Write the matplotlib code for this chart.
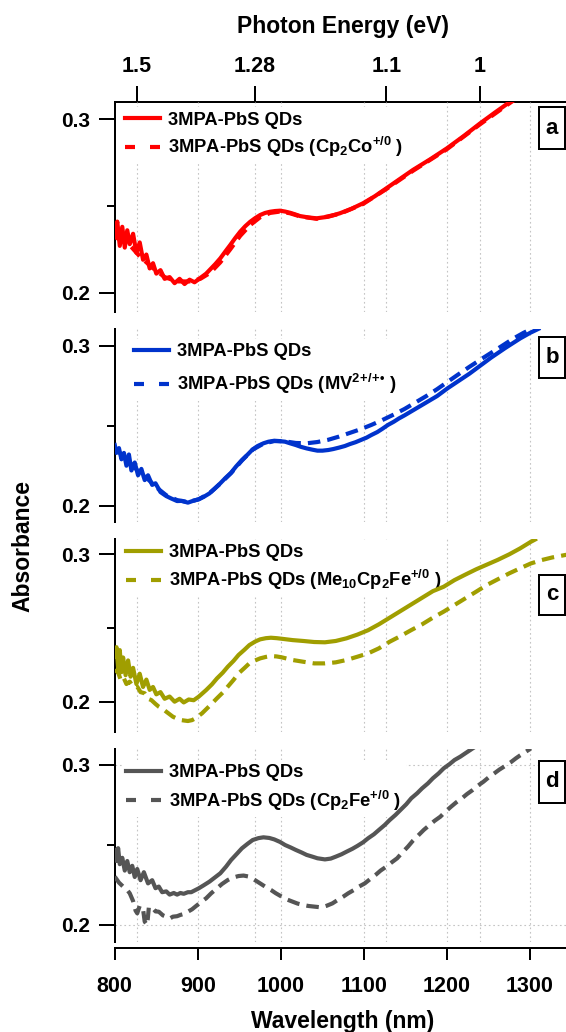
import matplotlib
matplotlib.use("Agg")
import matplotlib.pyplot as plt
from matplotlib.lines import Line2D
from matplotlib.patches import Rectangle
import numpy as np

plt.rcParams['font.family'] = ['Liberation Sans', 'DejaVu Sans']
plt.rcParams['font.weight'] = 'bold'
plt.rcParams['mathtext.fontset'] = 'custom'
plt.rcParams['mathtext.rm'] = 'Liberation Sans:bold'
plt.rcParams['mathtext.bf'] = 'Liberation Sans:bold'
plt.rcParams['mathtext.it'] = 'Liberation Sans:bold:italic'
plt.rcParams['mathtext.default'] = 'bf'

# ---------------- data ----------------
# panel a : red
wl_a_sol = [800, 803, 806, 809, 812, 815, 818, 822, 826, 830, 834, 838, 842, 846, 850, 855, 860, 866, 872, 878,
            884, 890, 896, 903, 910, 915, 921, 927, 933, 939, 945, 951, 957, 963, 969, 975, 981, 987, 993, 999,
            1005, 1011, 1017, 1023, 1033, 1043, 1057, 1071, 1085, 1099, 1113, 1127, 1143, 1159, 1180, 1200,
            1220, 1240, 1258, 1276, 1285]
abs_a_sol = [0.233, 0.241, 0.227, 0.238, 0.226, 0.236, 0.228, 0.234, 0.223, 0.229, 0.219, 0.222, 0.214, 0.217,
             0.211, 0.213, 0.208, 0.209, 0.2055, 0.208, 0.205, 0.2075, 0.206, 0.2085, 0.211, 0.2135, 0.2165,
             0.2198, 0.2237, 0.2275, 0.2315, 0.2352, 0.2383, 0.2409, 0.243, 0.2448, 0.246, 0.2467, 0.2471,
             0.2473, 0.2468, 0.2461, 0.2452, 0.2442, 0.2434, 0.2429, 0.2438, 0.2458, 0.2484, 0.2516, 0.2556,
             0.2602, 0.2655, 0.2708, 0.277, 0.2833, 0.2903, 0.2977, 0.304, 0.3101, 0.313]
wl_a_dsh = [800, 815, 830, 845, 860, 875, 890, 903, 915, 927, 939, 951, 963, 975, 987, 999, 1011, 1023, 1043,
            1071, 1099, 1127, 1159, 1200, 1240, 1276, 1285]
abs_a_dsh = [0.232, 0.229, 0.221, 0.2145, 0.209, 0.2065, 0.2065, 0.208, 0.2115, 0.2175, 0.225, 0.2328, 0.239,
             0.2435, 0.246, 0.2468, 0.2458, 0.244, 0.2426, 0.2455, 0.2512, 0.2598, 0.2703, 0.2828, 0.2972,
             0.3095, 0.3125]

# panel b : blue
wl_b_sol = [800, 802, 805, 808, 811, 814, 817, 820, 824, 828, 832, 836, 840, 845, 849, 855, 862, 868, 875, 881,
            888, 894, 901, 907, 914, 920, 927, 933, 940, 946, 953, 960, 966, 972, 979, 985, 992, 998, 1005, 1011,
            1018, 1024, 1031, 1038, 1044, 1050, 1057, 1063, 1070, 1077, 1083, 1090, 1096, 1103, 1109, 1116,
            1122, 1129, 1136, 1142, 1149, 1162, 1175, 1188, 1201, 1214, 1227, 1240, 1253, 1270, 1288, 1300, 1310]
abs_b_sol = [0.2379, 0.233, 0.236, 0.229, 0.233, 0.225, 0.232, 0.222, 0.227, 0.219, 0.223, 0.216, 0.219, 0.213,
             0.214, 0.2085, 0.206, 0.2045, 0.2029, 0.203, 0.2019, 0.203, 0.204, 0.2055, 0.2077, 0.2105, 0.214,
             0.2172, 0.2206, 0.2245, 0.2285, 0.232, 0.2352, 0.2373, 0.239, 0.24, 0.2406, 0.2404, 0.24, 0.239,
             0.2379, 0.2368, 0.2358, 0.235, 0.2344, 0.2344, 0.2348, 0.2354, 0.2363, 0.2373, 0.2385, 0.2397,
             0.241, 0.2425, 0.2442, 0.246, 0.248, 0.2505, 0.2525, 0.2545, 0.2565, 0.2605, 0.2645, 0.2685,
             0.2735, 0.278, 0.2825, 0.2875, 0.2925, 0.2985, 0.3045, 0.308, 0.3105]
wl_b_dsh = [800, 810, 820, 830, 840, 850, 862, 875, 888, 901, 914, 927, 940, 953, 966, 979, 992, 1005, 1018,
            1031, 1044, 1057, 1070, 1083, 1096, 1109, 1122, 1136, 1149, 1162, 1175, 1188, 1201, 1214, 1227,
            1240, 1253, 1266, 1280, 1292, 1303]
abs_b_dsh = [0.236, 0.231, 0.226, 0.2205, 0.2165, 0.2115, 0.2065, 0.2035, 0.2022, 0.204, 0.2078, 0.2138,
             0.2204, 0.2282, 0.235, 0.2388, 0.2404, 0.2402, 0.2392, 0.239, 0.2398, 0.2412, 0.2432, 0.2455,
             0.2478, 0.2505, 0.2535, 0.257, 0.2605, 0.2645, 0.2685, 0.2728, 0.2775, 0.2822, 0.2868, 0.2912,
             0.2955, 0.2998, 0.3045, 0.308, 0.3108]

# panel c : olive
wl_c_sol = [800, 802, 804, 806, 808, 810, 813, 816, 819, 822, 826, 830, 834, 838, 842, 846, 850, 855, 860, 866,
            872, 878, 883, 889, 895, 901, 910, 917, 923, 930, 936, 943, 949, 956, 962, 969, 975, 982, 988, 995,
            1001, 1014, 1027, 1040, 1053, 1066, 1079, 1092, 1105, 1118, 1131, 1144, 1157, 1170, 1183, 1196,
            1209, 1222, 1235, 1248, 1261, 1275, 1288, 1301, 1306]
abs_c_sol = [0.2305, 0.237, 0.223, 0.235, 0.22, 0.23, 0.218, 0.228, 0.217, 0.223, 0.212, 0.219, 0.21, 0.215,
             0.208, 0.21, 0.205, 0.2065, 0.202, 0.2035, 0.2, 0.202, 0.1995, 0.2015, 0.201, 0.2034, 0.2079,
             0.2118, 0.2158, 0.2197, 0.2237, 0.2277, 0.2317, 0.2352, 0.2384, 0.2408, 0.2423, 0.2431, 0.2434,
             0.2431, 0.2427, 0.2418, 0.2412, 0.2405, 0.2403, 0.2412, 0.243, 0.2455, 0.2485, 0.2525, 0.257,
             0.2615, 0.266, 0.2705, 0.275, 0.278, 0.2825, 0.2862, 0.2898, 0.293, 0.2962, 0.3, 0.304, 0.3085, 0.31]
wl_c_dsh = [800, 803, 807, 810, 814, 818, 823, 827, 831, 836, 840, 844, 849, 853, 858, 862, 866, 870, 875, 879,
            884, 888, 893, 897, 905, 914, 923, 930, 936, 943, 949, 956, 962, 969, 975, 982, 988, 995, 1001,
            1014, 1027, 1040, 1053, 1066, 1079, 1092, 1105, 1118, 1131, 1144, 1157, 1170, 1183, 1196, 1209,
            1222, 1235, 1248, 1261, 1275, 1288, 1301, 1314, 1327, 1345]
abs_c_dsh = [0.22, 0.2215, 0.215, 0.217, 0.212, 0.2136, 0.2095, 0.2102, 0.2065, 0.2057, 0.202, 0.2011, 0.1985,
             0.1966, 0.195, 0.1932, 0.1915, 0.1898, 0.1885, 0.1876, 0.1872, 0.1869, 0.1875, 0.1887, 0.1921,
             0.1971, 0.2023, 0.2062, 0.2102, 0.2148, 0.2192, 0.2228, 0.226, 0.228, 0.2294, 0.2304, 0.231,
             0.2307, 0.2301, 0.2283, 0.2271, 0.226, 0.226, 0.2267, 0.2283, 0.2305, 0.2328, 0.2362, 0.2407,
             0.2445, 0.2486, 0.2525, 0.257, 0.2611, 0.2656, 0.2701, 0.2746, 0.2792, 0.283, 0.2871, 0.2905,
             0.2938, 0.2961, 0.2979, 0.2998]

# panel d : gray
wl_d_sol = [800, 802, 804, 806, 809, 812, 815, 818, 821, 824, 827, 831, 835, 840, 845, 849, 853, 857, 862, 866,
            871, 875, 879, 883, 888, 892, 901, 907, 914, 920, 927, 934, 940, 947, 953, 960, 966, 973, 979, 986,
            992, 999, 1005, 1012, 1018, 1025, 1031, 1038, 1044, 1053, 1060, 1066, 1073, 1079, 1086, 1092, 1099,
            1105, 1112, 1118, 1125, 1131, 1138, 1144, 1151, 1157, 1164, 1170, 1177, 1183, 1190, 1196, 1203,
            1209, 1216, 1222, 1231]
abs_d_sol = [0.2469, 0.24, 0.248, 0.238, 0.242, 0.234, 0.24, 0.233, 0.237, 0.23, 0.235, 0.228, 0.233, 0.226,
             0.228, 0.223, 0.224, 0.2205, 0.221, 0.219, 0.22, 0.219, 0.22, 0.2195, 0.2205, 0.2205, 0.2229,
             0.2248, 0.2271, 0.2295, 0.2323, 0.2365, 0.2406, 0.2445, 0.2479, 0.2508, 0.2531, 0.2543, 0.2548,
             0.2544, 0.2535, 0.2519, 0.25, 0.2484, 0.2469, 0.2453, 0.2438, 0.2427, 0.2417, 0.241, 0.2415,
             0.2427, 0.2442, 0.2458, 0.2476, 0.2494, 0.2517, 0.2542, 0.2567, 0.2594, 0.2625, 0.2656, 0.2688,
             0.2719, 0.2755, 0.2792, 0.2823, 0.2854, 0.2885, 0.2917, 0.2948, 0.2979, 0.3005, 0.3031, 0.3052,
             0.3073, 0.3104]
wl_d_dsh = [800, 805, 810, 814, 818, 822, 825, 827, 830, 834, 836, 839, 841, 844, 849, 853, 858, 862, 866, 870,
            875, 879, 884, 888, 893, 897, 903, 910, 916, 923, 929, 936, 942, 949, 955, 962, 968, 975, 981, 988,
            994, 1001, 1007, 1014, 1020, 1027, 1033, 1040, 1049, 1055, 1062, 1068, 1075, 1081, 1088, 1094,
            1101, 1107, 1114, 1120, 1127, 1133, 1140, 1146, 1153, 1159, 1166, 1172, 1179, 1185, 1192, 1198,
            1205, 1211, 1218, 1224, 1231, 1237, 1244, 1250, 1257, 1263, 1270, 1277, 1283, 1288, 1292, 1297, 1301]
abs_d_dsh = [0.2302, 0.2265, 0.224, 0.2225, 0.2198, 0.215, 0.209, 0.2073, 0.212, 0.21, 0.2021, 0.2, 0.211,
             0.2115, 0.2085, 0.2083, 0.206, 0.2052, 0.204, 0.2052, 0.2055, 0.2063, 0.207, 0.2083, 0.2098,
             0.2115, 0.214, 0.2167, 0.2198, 0.2229, 0.2256, 0.2281, 0.2296, 0.2306, 0.2309, 0.2302, 0.2283,
             0.226, 0.224, 0.2219, 0.2198, 0.2177, 0.216, 0.2146, 0.2134, 0.2125, 0.2119, 0.2115, 0.211,
             0.212, 0.2135, 0.2155, 0.2177, 0.2198, 0.2219, 0.224, 0.226, 0.2285, 0.2313, 0.234, 0.2365,
             0.239, 0.2417, 0.2452, 0.249, 0.2527, 0.2563, 0.2594, 0.2625, 0.2651, 0.2677, 0.2708, 0.274,
             0.2766, 0.2792, 0.2818, 0.2844, 0.287, 0.2896, 0.2922, 0.2948, 0.2971, 0.2994, 0.3018, 0.3042,
             0.306, 0.3073, 0.309, 0.3104]

panel_letters = ['a', 'b', 'c', 'd']
colors = ['#ff0000', '#0033cc', '#a09e00', '#555555']
label_plain = '3MPA-PbS QDs'
label_redox = [r'3MPA-PbS QDs (Cp$_{2}$Co$^{+/0}$ )',
               r'3MPA-PbS QDs (MV$^{2\!+\!/\!+\!•}$ )',
               r'3MPA-PbS QDs (Me$_{10}$Cp$_{2}$Fe$^{+/0}$ )',
               r'3MPA-PbS QDs (Cp$_{2}$Fe$^{+/0}$ )']
wl_ticks = [800, 900, 1000, 1100, 1200, 1300]
ev_ticks = [1.5, 1.28, 1.1, 1.0]
ev_ticklabels = ['1.5', '1.28', '1.1', '1']
abs_major = [0.2, 0.3]
abs_minor = [0.25]

series = [((wl_a_sol, abs_a_sol), (wl_a_dsh, abs_a_dsh)),
          ((wl_b_sol, abs_b_sol), (wl_b_dsh, abs_b_dsh)),
          ((wl_c_sol, abs_c_sol), (wl_c_dsh, abs_c_dsh)),
          ((wl_d_sol, abs_d_sol), (wl_d_dsh, abs_d_dsh))]

# ---------------- layout (pixels) ----------------
W, H = 566, 1032
X0, PXNM = 114.8, 0.8305
XMAX = 1350
panel_px = [(101.7, 311.7), (329.3, 521.7), (539.3, 731.7), (749.3, 941.7)]
ylims = [(0.18904, 0.31015), (0.1900, 0.31025), (0.17965, 0.31018), (0.18956, 0.30981)]
box_px = [(107.3, 149.3), (337.3, 378.3), (575.0, 615.0), (760.7, 802.7)]
leg_px = [(125.0, 118.3), (134.0, 350.0), (126.0, 550.7), (126.4, 770.7)]   # handle left, row1 centre
leg_spacing = [0.36, 0.63, 0.38, 0.40]
BOXL, BOXR = 539.0, 565.0

LW = 3.0
FS_LEG = 13.2
HC = 1239.84

fig = plt.figure(figsize=(W / 100, H / 100), dpi=100)
right_px = X0 + (XMAX - 800) * PXNM


def nm2ev(x):
    x = np.asarray(x, dtype=float)
    return HC / np.where(x == 0, 1e-9, x)


axes = []
for i in range(4):
    top, bot = panel_px[i]
    ax = fig.add_axes([X0 / W, 1 - bot / H, (right_px - X0) / W, (bot - top) / H])
    ax.patch.set_alpha(0)
    ax.set_xlim(800, XMAX)
    ax.set_ylim(*ylims[i])
    for s in ['top', 'right', 'bottom']:
        ax.spines[s].set_visible(False)
    ax.spines['left'].set_linewidth(1.44)
    ax.set_yticks(abs_major)
    ax.set_yticks(abs_minor, minor=True)
    ax.set_yticklabels(['0.2', '0.3'])
    ax.tick_params(axis='y', which='major', length=11.5, width=1.44, labelsize=15, pad=6)
    ax.tick_params(axis='y', which='minor', length=6.1, width=1.44)
    ax.set_xticks(wl_ticks)
    if i < 3:
        ax.tick_params(axis='x', which='both', bottom=False, labelbottom=False)
    else:
        ax.spines['bottom'].set_visible(True)
        ax.spines['bottom'].set_linewidth(1.44)
        ax.spines['bottom'].set_position(('outward', 4.75))
        ax.tick_params(axis='x', length=8.6, width=1.44, labelsize=15.5, pad=11)
    # grid lines
    for w in wl_ticks[1:]:
        ax.axvline(w, color='#c4c4c4', lw=0.8, ls=(0, (1.5, 2.5)), zorder=0.5)
    for e in ev_ticks:
        ax.axvline(HC / e, color='#c4c4c4', lw=0.8, ls=(0, (1.5, 2.5)), zorder=0.5)
    if i == 3:
        for a in abs_major:
            ax.axhline(a, color='#c4c4c4', lw=0.8, ls=(0, (1.5, 2.5)), zorder=0.5)

    (ws, ys), (wd, yd) = series[i]
    c = colors[i]
    ax.plot(wd, yd, color=c, lw=LW, dashes=(3.0, 1.7), zorder=3, solid_capstyle='butt')
    ax.plot(ws, ys, color=c, lw=LW, zorder=3.1)

    # legend (white box hides grid lines, data drawn above it)
    h1 = Line2D([], [], color=c, lw=LW)
    h2 = Line2D([], [], color=c, lw=LW, dashes=(2.4, 3.6), dash_capstyle='butt')
    hx, hy = leg_px[i]
    fs_px = FS_LEG * 100 / 72
    bp = 0.25
    ax_w = right_px - X0
    ax_h = bot - top
    anchor_x = (hx - bp * fs_px - X0) / ax_w
    anchor_y = 1 - ((hy - 0.36 * fs_px - bp * fs_px) - top) / ax_h
    leg = ax.legend([h1, h2], [label_plain, label_redox[i]], loc='upper left',
                    bbox_to_anchor=(anchor_x, anchor_y), borderaxespad=0, borderpad=bp,
                    handlelength=1.91, handletextpad=0.44, labelspacing=leg_spacing[i],
                    frameon=True, fancybox=False, edgecolor='none', facecolor='white',
                    framealpha=1, prop={'size': FS_LEG, 'weight': 'bold'})
    leg.set_zorder(2)

    # panel letter box
    bt, bb = box_px[i]
    bx0 = (BOXL - X0) / ax_w
    bx1 = (BOXR - X0) / ax_w
    by0 = 1 - (bb - top) / ax_h
    by1 = 1 - (bt - top) / ax_h
    ax.add_patch(Rectangle((bx0, by0), bx1 - bx0, by1 - by0, transform=ax.transAxes,
                           facecolor='white', edgecolor='black', lw=1.44, zorder=6, clip_on=False))
    ax.text((bx0 + bx1) / 2, (by0 + by1) / 2, panel_letters[i], transform=ax.transAxes,
            ha='center', va='center', fontsize=16, fontweight='bold', zorder=7)
    axes.append(ax)

# top energy axis on panel a
sec = axes[0].secondary_xaxis('top', functions=(nm2ev, nm2ev))
sec.set_xticks(ev_ticks)
sec.set_xticklabels(ev_ticklabels)
sec.spines['top'].set_linewidth(1.44)
sec.tick_params(axis='x', which='major', direction='out', length=11.5, width=1.44, labelsize=15.5, pad=6)
sec.tick_params(axis='x', which='minor', top=False)

fig.text(343 / W, 1 - 33.3 / H, 'Photon Energy (eV)', ha='center', va='baseline', fontsize=16.5, fontweight='bold')
fig.text(343 / W, 1 - 1028 / H, 'Wavelength (nm)', ha='center', va='baseline', fontsize=16.5, fontweight='bold')
fig.text(23 / W, 1 - 546.5 / H, 'Absorbance', ha='center', va='center', rotation=90, fontsize=16.5, fontweight='bold')

fig.savefig('out.png', dpi=100)
